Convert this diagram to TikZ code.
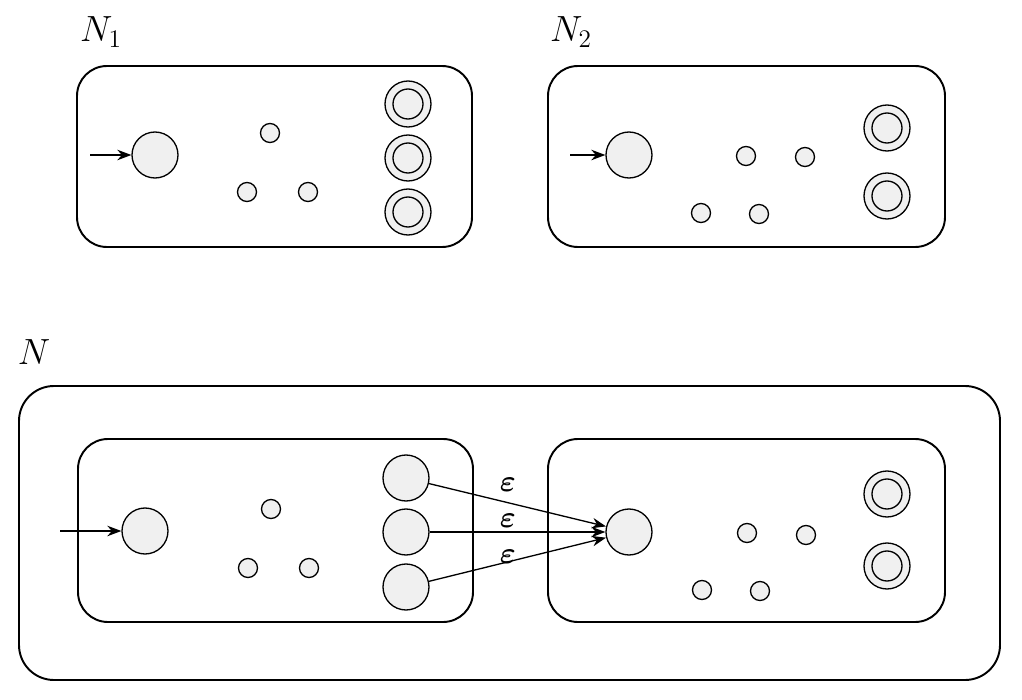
\documentclass[tikz,border=0pt]{standalone}
\usepackage{amsmath,amssymb}
\usetikzlibrary{arrows.meta}
\begin{document}
\begin{tikzpicture}[x=0.02cm,y=-0.02cm,
  frame/.style={draw,line width=1.1pt,rounded corners=0.6cm},
  bigstate/.style={circle,draw,fill=gray!12,line width=0.75pt,minimum size=0.92cm,inner sep=0pt},
  smallstate/.style={circle,draw,fill=gray!12,line width=0.75pt,minimum size=0.38cm,inner sep=0pt},
  accstateb/.style={circle,draw,fill=gray!12,line width=0.75pt,minimum size=0.6cm,inner sep=0pt},
  arr/.style={-{Stealth[length=8pt,width=6pt]},line width=0.75pt},
  lbl/.style={font=\fontsize{20}{24}\selectfont},
  eps/.style={font=\fontsize{17}{20}\selectfont,inner sep=0pt}
]
\useasboundingbox (0,0) rectangle (1022,700);
% N1
\node[lbl] (l1) at (101,32) {$N_1$};
\draw[frame] (77,66) rectangle (472,247);
\node[bigstate] (s1) at (155,155) {};
\coordinate (i1) at (90,155);
\draw[arr] (i1) -- (s1);
\node[smallstate] (a1) at (270,133) {};
\node[smallstate] (a2) at (247,192) {};
\node[smallstate] (a3) at (308,192) {};
\foreach \y/\n in {104/f1,158/f2,212/f3}{
  \node[bigstate] (\n) at (408,\y) {};
  \node[accstateb] (\n i) at (408,\y) {};
}
% N2
\node[lbl] (l2) at (571,32) {$N_2$};
\draw[frame] (548,66) rectangle (945,247);
\node[bigstate] (s2) at (629,155) {};
\coordinate (i2) at (570,155);
\draw[arr] (i2) -- (s2);
\node[smallstate] (b1) at (746,156) {};
\node[smallstate] (b2) at (805,157) {};
\node[smallstate] (b3) at (701,213) {};
\node[smallstate] (b4) at (759,214) {};
\foreach \y/\n in {128/g1,196/g2}{
  \node[bigstate] (\n) at (887,\y) {};
  \node[accstateb] (\n i) at (887,\y) {};
}
% N
\node[lbl] (l3) at (34,352) {$N$};
\draw[frame,rounded corners=0.7cm] (19,386) rectangle (1000,680);
\draw[frame] (78,439) rectangle (473,622);
\draw[frame] (548,439) rectangle (945,622);
\node[bigstate] (s3) at (145,531) {};
\coordinate (i3) at (60,531);
\draw[arr] (i3) -- (s3);
\node[smallstate] (c1) at (271,509) {};
\node[smallstate] (c2) at (248,568) {};
\node[smallstate] (c3) at (309,568) {};
\node[bigstate] (p1) at (406,478) {};
\node[bigstate] (p2) at (406,532) {};
\node[bigstate] (p3) at (406,587) {};
\node[bigstate] (s4) at (629,532) {};
\node[smallstate] (d1) at (747,533) {};
\node[smallstate] (d2) at (806,535) {};
\node[smallstate] (d3) at (702,590) {};
\node[smallstate] (d4) at (760,591) {};
\foreach \y/\n in {494/h1,566/h2}{
  \node[bigstate] (\n) at (887,\y) {};
  \node[accstateb] (\n i) at (887,\y) {};
}
\draw[arr] (p1) -- (s4);
\draw[arr] (p2) -- (s4);
\draw[arr] (p3) -- (s4);
\node[eps] (e1) at (508,485) {$\boldsymbol{\varepsilon}$};
\node[eps] (e2) at (508,521) {$\boldsymbol{\varepsilon}$};
\node[eps] (e3) at (508,557) {$\boldsymbol{\varepsilon}$};
\end{tikzpicture}
\end{document}
